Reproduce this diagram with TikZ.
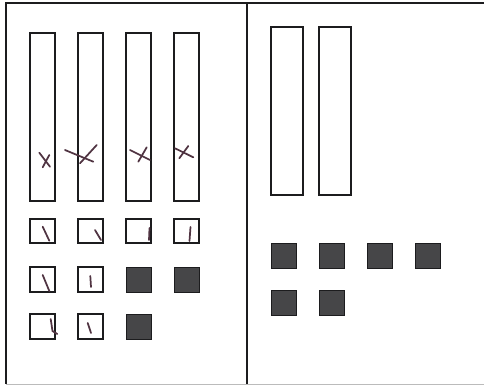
\documentclass[tikz,border=0pt]{standalone}
\usepackage{xcolor}
\usepackage{tikz}
\usetikzlibrary{calc}
\definecolor{inkclr}{RGB}{28,28,30}
\definecolor{pencil}{RGB}{80,52,66}
\definecolor{shade}{RGB}{70,70,72}
\tikzset{
  frame/.style={draw=inkclr,line width=1.1pt},
  bar/.style={draw=inkclr,line width=0.9pt,fill=white},
  tile/.style={draw=inkclr,line width=0.9pt,fill=white},
  tilefull/.style={draw=inkclr,line width=0.6pt,fill=shade},
  tick/.style={draw=pencil,line width=1.3pt,line cap=round},
}
\begin{document}
\begin{tikzpicture}[x=0.75pt, y=-0.75pt]
\useasboundingbox (0,0) rectangle (484,386);

% ── frame and divider
\draw[frame] (484,3) -- (6,3) -- (6,384);
\draw[frame] (247,3) -- (247,384);
\draw[draw=inkclr!30,line width=0.6pt] (6,384) -- (484,384);

% ── left half: four bars, each crossed out
\foreach \x in {30,78,126,174}
  \draw[bar] (\x,33) rectangle ++(25,168);
\draw[tick] (39.3,152.7) -- (50,166.7);
\draw[tick] (49.3,155) -- (42.7,167.3);
\draw[tick] (65,150) -- (93.3,161.7);
\draw[tick] (96.7,145) -- (80,163.3);
\draw[tick] (130,150) -- (150,160);
\draw[tick] (146.7,147.3) -- (138.3,161.7);
\draw[tick] (175,148.3) -- (193.3,157.3);
\draw[tick] (188.3,146) -- (179.3,158.3);

% ── left half: tiles
\foreach \x in {30,78,126,174}
  \draw[tile] (\x,219) rectangle ++(25,24);
\foreach \x in {30,78}
  \draw[tile] (\x,267) rectangle ++(25,25);
\foreach \x in {126,174}
  \draw[tilefull] (\x,267) rectangle ++(25,25);
\foreach \x in {30,78}
  \draw[tile] (\x,314) rectangle ++(25,25);
\draw[tilefull] (126,314) rectangle ++(25,25);

% tally strokes in the open tiles
\draw[tick] (42.7,226.7) -- (49.3,240.7);
\draw[tick] (95,230) -- (101,240);
\draw[tick] (149.5,228) -- (149,240);
\draw[tick] (190.5,227) -- (189.5,241);
\draw[tick] (42.7,275) -- (49.3,291);
\draw[tick] (90.3,276) -- (91,287);
\draw[tick] (50.7,319) -- (52.5,331) -- (57.3,334);
\draw[tick] (87.7,323) -- (91,333);

% ── right half: two bars, six full tiles
\foreach \x in {271,319}
  \draw[bar] (\x,27) rectangle ++(32,168);
\foreach \x in {271,319,367,415}
  \draw[tilefull] (\x,243) rectangle ++(25,25);
\foreach \x in {271,319}
  \draw[tilefull] (\x,290) rectangle ++(25,25);

\end{tikzpicture}
\end{document}
